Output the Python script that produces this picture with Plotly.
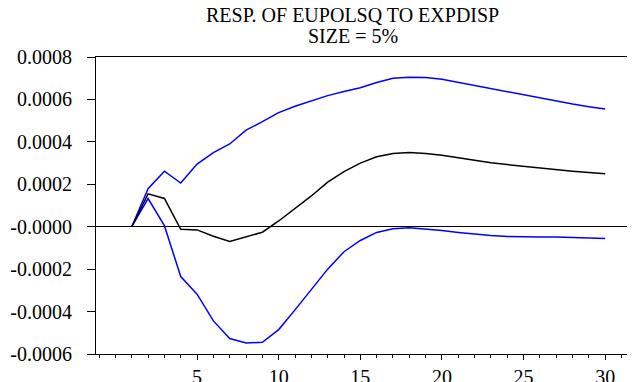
import plotly.graph_objects as go

periods = list(range(1, 31))
response = [0, 0.000155, 0.000133, -0.000012, -0.000015, -0.000045, -0.00007, -0.000049,
            -0.000026, 0.000027, 0.000086, 0.000145, 0.00021, 0.00026, 0.0003, 0.00033,
            0.000345, 0.00035, 0.000345, 0.000337, 0.000325, 0.000313, 0.000302, 0.000293,
            0.000285, 0.000276, 0.000269, 0.000262, 0.000256, 0.00025]
upper_band = [0, 0.000179, 0.000262, 0.000206, 0.000295, 0.000349, 0.00039, 0.000455,
              0.000495, 0.000538, 0.000568, 0.000592, 0.000618, 0.000637, 0.000655, 0.00068,
              0.0007, 0.000705, 0.000703, 0.000695, 0.00068, 0.000668, 0.000652, 0.000635,
              0.00062, 0.000605, 0.00059, 0.000578, 0.000566, 0.000555]
lower_band = [0, 0.000133, 0.000005, -0.000235, -0.000318, -0.000444, -0.000527, -0.000548,
              -0.000545, -0.000485, -0.000392, -0.000297, -0.0002, -0.000118, -0.000065,
              -0.000027, -0.00001, -0.000005, -0.00001, -0.000018, -0.000027, -0.000036,
              -0.000042, -0.000046, -0.000048, -0.000048, -0.000048, -0.00005, -0.000052,
              -0.000055]

title_lines = ["RESP. OF EUPOLSQ TO EXPDISP", "SIZE = 5%"]
y_tickvals = [0.0008, 0.0006, 0.0004, 0.0002, 0.0, -0.0002, -0.0004, -0.0006]
y_ticktext = ["0.0008", "0.0006", "0.0004", "0.0002", "-0.0000", "-0.0002", "-0.0004", "-0.0006"]
x_tickvals = [5, 10, 15, 20, 25, 30]

FONT = "Liberation Serif"

fig = go.Figure()
fig.add_trace(go.Scatter(x=periods, y=upper_band, mode="lines",
                         line=dict(color="#0000FF", width=1.5), showlegend=False))
fig.add_trace(go.Scatter(x=periods, y=lower_band, mode="lines",
                         line=dict(color="#0000FF", width=1.5), showlegend=False))
fig.add_trace(go.Scatter(x=periods, y=response, mode="lines",
                         line=dict(color="#000000", width=1.5), showlegend=False))

# title lines as annotations (paper coordinates above the plot frame)
title_y = [1.140, 1.072]
for txt, ty in zip(title_lines, title_y):
    fig.add_annotation(text=txt, x=(344 - 86) / 547, y=ty, xref="paper", yref="paper",
                       xanchor="center", yanchor="middle", showarrow=False,
                       font=dict(family=FONT, size=20, color="black"))

fig.update_layout(
    width=635, height=382,
    margin=dict(l=86, r=2, t=49, b=25),
    paper_bgcolor="white", plot_bgcolor="white",
    font=dict(family=FONT, size=20, color="black"),
    xaxis=dict(range=[-1.19, 32.13], tickmode="array", tickvals=x_tickvals,
               ticks="outside", ticklen=5, tickcolor="black", tickwidth=1,
               showline=True, linecolor="black", linewidth=1, mirror=True,
               showgrid=False, zeroline=False,
               minor=dict(dtick=1, tick0=0, ticks="outside", ticklen=3,
                          tickcolor="black", tickwidth=1, showgrid=False),
               tickfont=dict(family=FONT, size=20, color="black")),
    yaxis=dict(range=[-0.0006, 0.0008], tickmode="array", tickvals=y_tickvals,
               ticktext=y_ticktext, ticks="outside", ticklen=8, tickcolor="black",
               tickwidth=1, showline=True, linecolor="black", linewidth=1, mirror=True,
               showgrid=False, zeroline=True, zerolinecolor="black", zerolinewidth=1,
               ticklabelstandoff=11,
               tickfont=dict(family=FONT, size=20, color="black")),
)

fig.write_html("out.html")
